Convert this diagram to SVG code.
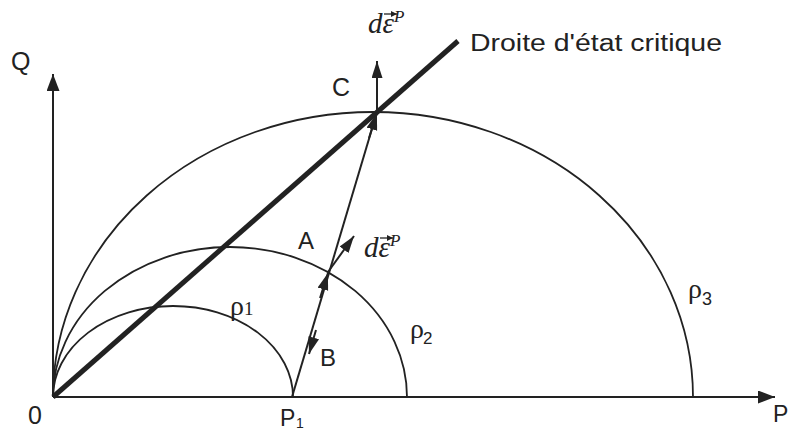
<svg xmlns="http://www.w3.org/2000/svg" width="790" height="432" viewBox="0 0 790 432">
<style>
.lbl{font-family:"Liberation Sans",Arial,sans-serif;fill:#222}
.gr{font-family:"Liberation Serif","Times New Roman",serif;fill:#222}
.eps{font-family:"Liberation Serif","Times New Roman",serif;font-style:italic;fill:#222}
.curve{fill:none;stroke:#222;stroke-width:1.8}
.ax{fill:none;stroke:#222;stroke-width:2}
</style>
<defs>
<marker id="ah" markerUnits="userSpaceOnUse" markerWidth="18" markerHeight="14" refX="17" refY="6.5" orient="auto">
<path d="M0,0 L17,6.5 L0,13 z" fill="#222"/>
</marker>
<marker id="ahs" markerUnits="userSpaceOnUse" markerWidth="18" markerHeight="12" refX="17" refY="5.5" orient="auto">
<path d="M0,0 L17,5.5 L0,11 z" fill="#222"/>
</marker>
<marker id="tiny" markerUnits="userSpaceOnUse" markerWidth="7" markerHeight="6" refX="6" refY="3" orient="auto">
<path d="M0,0 L6,3 L0,6 z" fill="#222"/>
</marker>
</defs>

<g id="axes">
<line class="ax" x1="53" y1="397" x2="53" y2="74" marker-end="url(#ah)"/>
<line class="ax" x1="53" y1="397" x2="775" y2="397" marker-end="url(#ah)"/>
<text class="lbl" x="11" y="70" font-size="25">Q</text>
<text class="lbl" x="28" y="424" font-size="25">0</text>
<text class="lbl" x="773" y="422" font-size="23">P</text>
</g>

<g id="rho1">
<path class="curve" d="M53,397 A120,91 0 0 1 293,397"/>
<text class="gr" x="230" y="315" font-size="28">ρ<tspan font-size="19">1</tspan></text>
</g>
<g id="rho2">
<path class="curve" d="M53,397 A177,150 0 0 1 407,397"/>
<text class="gr" x="410" y="338" font-size="28">ρ</text>
<text class="lbl" x="423" y="344" font-size="17">2</text>
</g>
<g id="rho3">
<path class="curve" d="M53,397 A320,285 0 0 1 693,397"/>
<text class="gr" x="688" y="298" font-size="28">ρ</text>
<text class="lbl" x="702" y="305" font-size="18">3</text>
</g>

<g id="csl">
<line x1="53" y1="397" x2="458" y2="41" stroke="#222" stroke-width="5"/>
<text class="lbl" x="470" y="51" font-size="23" textLength="252" lengthAdjust="spacingAndGlyphs">Droite d'état critique</text>
</g>

<g id="P1">
<text class="lbl" x="280" y="426" font-size="23">P</text>
<text class="lbl" x="296" y="428" font-size="14">1</text>
</g>

<g id="connectors">
<line x1="292" y1="397" x2="377" y2="112" stroke="#222" stroke-width="2"/>
<line x1="369" y1="138" x2="377" y2="113" stroke="#222" stroke-width="2" marker-end="url(#ahs)"/>
<line x1="320" y1="298" x2="328" y2="273" stroke="#222" stroke-width="2" marker-end="url(#ahs)"/>
<line x1="316" y1="330" x2="309" y2="354" stroke="#222" stroke-width="2" marker-end="url(#ahs)"/>
<line x1="328" y1="272" x2="354" y2="236" stroke="#222" stroke-width="2" marker-end="url(#ahs)"/>
<line x1="377" y1="112" x2="377" y2="61" stroke="#222" stroke-width="2" marker-end="url(#ahs)"/>
</g>

<g id="labels">
<text class="lbl" x="332" y="96" font-size="25">C</text>
<text class="lbl" x="298" y="249" font-size="24">A</text>
<text class="lbl" x="320" y="366" font-size="24">B</text>
</g>

<g id="deps-top">
<text class="eps" x="368" y="33" font-size="29">dε<tspan font-size="17" dy="-11">P</tspan></text>
<line x1="384" y1="14" x2="397" y2="14" stroke="#222" stroke-width="1.3" marker-end="url(#tiny)"/>
</g>
<g id="deps-A">
<text class="eps" x="364" y="257" font-size="29">dε<tspan font-size="17" dy="-11">P</tspan></text>
<line x1="380" y1="238" x2="393" y2="238" stroke="#222" stroke-width="1.3" marker-end="url(#tiny)"/>
</g>
</svg>
